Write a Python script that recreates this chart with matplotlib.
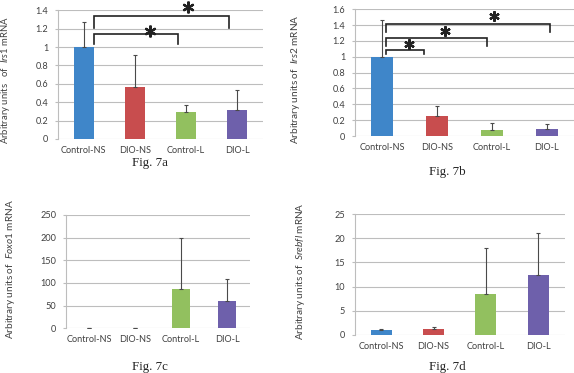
import matplotlib
matplotlib.use("Agg")
import matplotlib.pyplot as plt

plt.rcParams['font.family'] = ['Lato', 'DejaVu Sans']
plt.rcParams['mathtext.fontset'] = 'custom'
plt.rcParams['mathtext.rm'] = 'Lato'
plt.rcParams['mathtext.it'] = 'Lato:italic'

categories = ["Control-NS", "DIO-NS", "Control-L", "DIO-L"]
colors = ["#3f86c9", "#c84d4e", "#92c05f", "#6e60ab"]

irs1_mean = [1.0, 0.57, 0.29, 0.32]
irs1_err = [0.27, 0.34, 0.085, 0.21]
irs2_mean = [1.0, 0.255, 0.08, 0.09]
irs2_err = [0.47, 0.125, 0.08, 0.06]
foxo1_mean = [1.0, 0.8, 86.0, 60.0]
foxo1_err = [0.6, 0.5, 114.0, 48.0]
srebf1_mean = [0.97, 1.17, 8.4, 12.4]
srebf1_err = [0.27, 0.43, 9.5, 8.6]

# brackets: (x_left, x_right, y_line, y_leg_bottom, star_x, star_y)
brackets_a = [(0.2, 1.84, 1.138, 1.03, 1.29, 1.178),
              (0.2, 2.84, 1.342, 1.207, 2.03, 1.433)]
brackets_b = [(0.07, 0.76, 1.086, 1.035, 0.48, 1.157),
              (0.07, 1.92, 1.24, 1.136, 1.14, 1.326),
              (0.07, 3.07, 1.41, 1.31, 2.04, 1.52)]

W, H = 574, 373
fig = plt.figure(figsize=(W / 100, H / 100), dpi=100)


def px_axes(x0, x1, ytop, ybot):
    return fig.add_axes([x0 / W, 1 - ybot / H, (x1 - x0) / W, (ybot - ytop) / H])


def panel(ax, means, errs, ymax, step, ylabel, yfmt, bar_w, lsize=7.2):
    x = list(range(len(categories)))
    ax.bar(x, means, width=bar_w, color=colors, zorder=3)
    ax.errorbar(x, means, yerr=[[0] * len(errs), errs], fmt='none',
                ecolor='#4a4a4a', elinewidth=0.8, capsize=1.6, capthick=0.8, zorder=4)
    ax.set_xlim(-0.5, 3.5)
    ax.set_ylim(0, ymax)
    ticks = [i * step for i in range(int(round(ymax / step)) + 1)]
    ax.set_yticks(ticks)
    ax.set_yticklabels([yfmt(t) for t in ticks])
    ax.set_xticks(x)
    ax.set_xticklabels(categories)
    ax.yaxis.grid(True, color='#bdbdbd', linewidth=0.8, zorder=0)
    ax.set_axisbelow(True)
    for s in ['top', 'right', 'bottom']:
        ax.spines[s].set_visible(False)
    ax.spines['left'].set_color('#bdbdbd')
    ax.spines['left'].set_linewidth(0.8)
    ax.tick_params(axis='y', length=2, color='#bdbdbd', labelsize=6.6,
                   labelcolor='#404040', pad=5)
    ax.tick_params(axis='x', length=0, labelsize=6.6, labelcolor='#404040', pad=5)
    ax.set_ylabel(ylabel, fontsize=lsize, color='#404040')


def fmt_dec(t):
    s = f"{t:.1f}"
    return s.rstrip('0').rstrip('.') if s.endswith('.0') else s


def fmt_int(t):
    return f"{int(round(t))}"


def draw_brackets(ax, brackets, star_size):
    for (xl, xr, yl, yb, sx, sy) in brackets:
        ax.plot([xl, xl, xr, xr], [yb, yl, yl, yb], color='#222222', lw=1.2,
                clip_on=False, zorder=5, solid_joinstyle='miter')
        ax.plot([sx], [sy], marker=(6, 2, 0), markersize=star_size, color='#222222',
                mew=1.6, clip_on=False, zorder=5)


ax_a = px_axes(58, 263, 10.3, 139)
panel(ax_a, irs1_mean, irs1_err, 1.4, 0.2,
      r"Arbitrary units   of  $\it{Irs1}$ mRNA", fmt_dec, 0.39, lsize=6.8)
draw_brackets(ax_a, brackets_a, 8.5)
ax_a.yaxis.set_label_coords(-(58 - 12) / 205, 0.46)

ax_b = px_axes(355, 574, 9.3, 136)
panel(ax_b, irs2_mean, irs2_err, 1.6, 0.2,
      r"Arbitrary units of  $\it{Irs2}$ mRNA", fmt_dec, 0.40)
draw_brackets(ax_b, brackets_b, 7.5)
ax_b.yaxis.set_label_coords(-(355 - 302) / 219, 0.45)

ax_c = px_axes(66, 250, 215, 328.3)
panel(ax_c, foxo1_mean, foxo1_err, 250, 50,
      r"Arbitrary units of  $\it{Foxo1}$ mRNA", fmt_int, 0.39)
ax_c.yaxis.set_label_coords(-(66 - 17) / 184, 0.52)

ax_d = px_axes(355, 564.5, 214, 335)
panel(ax_d, srebf1_mean, srebf1_err, 25, 5,
      r"Arbitrary units of  $\it{Srebfl}$ mRNA", fmt_int, 0.40)
ax_d.yaxis.set_label_coords(-(355 - 307) / 209.5, 0.53)

for label, (x, y) in zip(["Fig. 7a", "Fig. 7b", "Fig. 7c", "Fig. 7d"],
                         [(150, 163), (447, 172), (150, 367), (447, 367)]):
    fig.text(x / W, 1 - y / H, label, ha='center', va='center', fontsize=9.3,
             family='Liberation Serif', color='#222222')

fig.savefig("out.png", dpi=100)
